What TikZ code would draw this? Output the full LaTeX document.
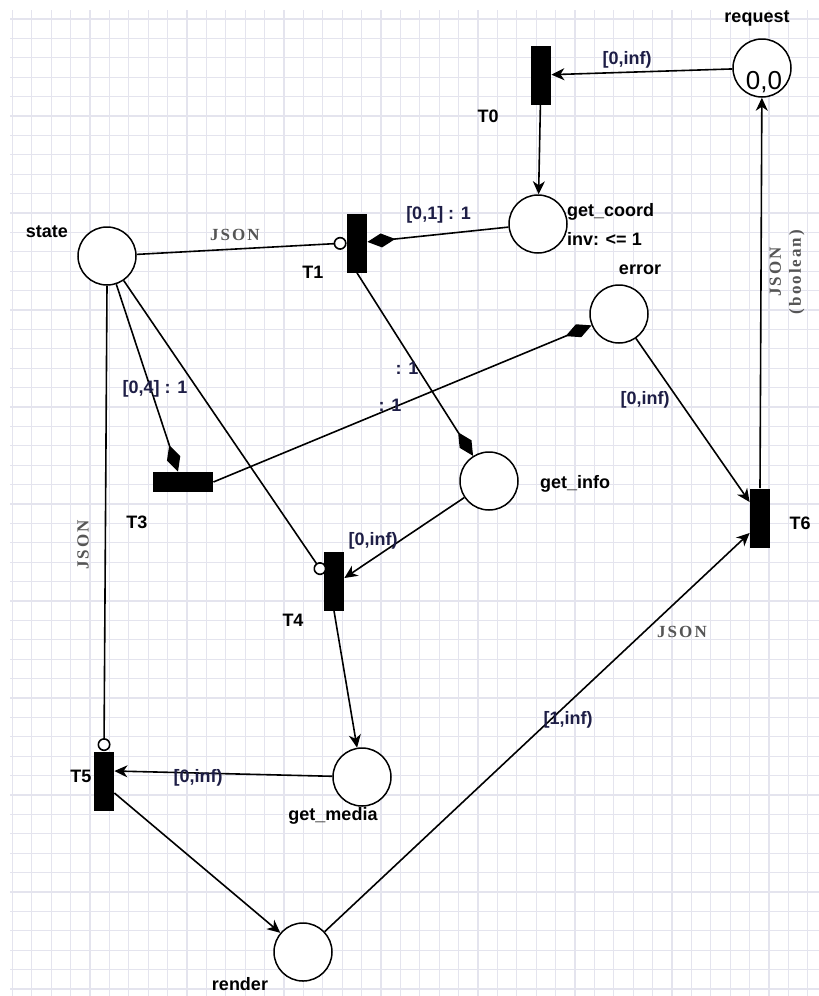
\documentclass[tikz,border=0pt]{standalone}
\usepackage{fontspec}
\setmainfont{Liberation Sans}
\newfontfamily\jsonfont[LetterSpace=12]{Liberation Serif}
\usetikzlibrary{arrows.meta}
\definecolor{gridcol}{RGB}{228,228,238}
\definecolor{arcnavy}{RGB}{30,30,70}
\definecolor{jsongray}{RGB}{85,85,85}

\begin{document}
\begin{tikzpicture}[x=0.5pt,y=-0.5pt,
  placenode/.style={draw,circle,line width=0.75pt,minimum size=29pt,inner sep=0pt,fill=white},
  vbar/.style={fill=black,inner sep=0pt,minimum width=10pt,minimum height=29.5pt},
  hbar/.style={fill=black,inner sep=0pt,minimum width=30pt,minimum height=10pt},
  lbl/.style={font=\bfseries\fontsize{9}{10}\selectfont},
  arclbl/.style={font=\bfseries\fontsize{9}{10}\selectfont,text=arcnavy},
  jsonlbl/.style={font=\jsonfont\bfseries\fontsize{8.5}{10}\selectfont,text=jsongray,align=center},
  flow/.style={line width=0.8pt,-{Stealth[length=6.5pt,width=6pt,inset=2pt]}},
  transport/.style={line width=0.8pt,-{Diamond[length=14pt,width=7pt]}},
  inhib/.style={line width=0.8pt,-{Circle[open,length=6.5pt,fill=white]}}]
\useasboundingbox (0,0) rectangle (819,996);
\fill[white] (0,0) rectangle (819,996);
% background grid
\foreach \gx in {12.3,31.7,...,819} \draw[gridcol,line width=0.6pt] (\gx,10) -- (\gx,996);
\foreach \gy in {19,38.4,...,996} \draw[gridcol,line width=0.6pt] (10,\gy) -- (819,\gy);

% places
\node[placenode] (req) at (762,68) {};
\node[placenode] (gc) at (538,224) {};
\node[placenode] (state) at (107,256) {};
\node[placenode] (err) at (619,314) {};
\node[placenode] (info) at (489,481) {};
\node[placenode] (media) at (362,777) {};
\node[placenode] (render) at (303,952) {};

% transitions
\node[vbar] (T0) at (541,75) {};
\node[vbar] (T1) at (357,243) {};
\node[hbar] (T3) at (183,482) {};
\node[vbar] (T4) at (334,581) {};
\node[vbar] (T5) at (104,781) {};
\node[vbar] (T6) at (760,518) {};

% arcs
\draw[flow] (req) -- (T0);
\draw[flow] (T0) -- (gc);
\draw[transport] (gc) -- (T1);
\draw[inhib] (state) -- (T1.west);
\draw[transport] (T1.south) -- (info);
\draw[transport] (state) -- ([xshift=-2.5pt]T3.north);
\draw[transport] (T3.east) -- (err);
\draw[inhib] (state) -- ([yshift=3.5pt]T4.west);
\draw[inhib] (state.south) -- (T5.north);
\draw[flow] (info) -- ([yshift=1.5pt]T4.east);
\draw[flow] (T4.south) -- (media);
\draw[flow] (media) -- ([yshift=5pt]T5.east);
\draw[flow] ([yshift=-6pt]T5.east) -- (render);
\draw[flow] (err) -- ([yshift=8pt]T6.west);
\draw[flow] (render) -- ([yshift=-7.5pt]T6.west);
\draw[flow] (T6.north) -- (req);

% place and transition names
\node[lbl] (reqname) at (757,18) {request};
\node[font=\fontsize{13}{14}\selectfont] (reqtok) at (764,82) {0,0};
\node[lbl,anchor=west] (gcname) at (560,212) {get\_coord};
\node[lbl,anchor=west] (gcinv) at (560,239) {inv: <= 1};
\node[lbl] (statename) at (47,232) {state};
\node[lbl] (errname) at (640,270) {error};
\node[lbl] (infoname) at (575,484) {get\_info};
\node[lbl] (medianame) at (333,816) {get\_media};
\node[lbl] (rendername) at (240,984) {render};
\node[lbl] (T0name) at (488,116) {T0};
\node[lbl] (T1name) at (313,272) {T1};
\node[lbl] (T3name) at (137,522) {T3};
\node[lbl] (T4name) at (293,620) {T4};
\node[lbl] (T5name) at (81,776) {T5};
\node[lbl] (T6name) at (800,523) {T6};

% arc inscriptions
\node[arclbl] (w0) at (627,60) {[0,inf)};
\node[arclbl,anchor=east] (w1) at (478,215) {[0,1] : 1};
\node[arclbl] (w2) at (155,389) {[0,4] : 1};
\node[arclbl] (w3) at (407,368) {: 1};
\node[arclbl] (w4) at (390,405) {: 1};
\node[arclbl] (w5) at (645,400) {[0,inf)};
\node[arclbl] (w6) at (373,541) {[0,inf)};
\node[arclbl] (w7) at (198,778) {[0,inf)};
\node[arclbl] (w8) at (568,720) {[1,inf)};
\node[jsonlbl] (j1) at (235,235) {JSON};
\node[jsonlbl,rotate=90] (j2) at (83,545) {JSON};
\node[jsonlbl] (j3) at (682,632) {JSON};
\node[jsonlbl,rotate=90] (j4) at (787,272) {JSON\\(boolean)};
\end{tikzpicture}
\end{document}
